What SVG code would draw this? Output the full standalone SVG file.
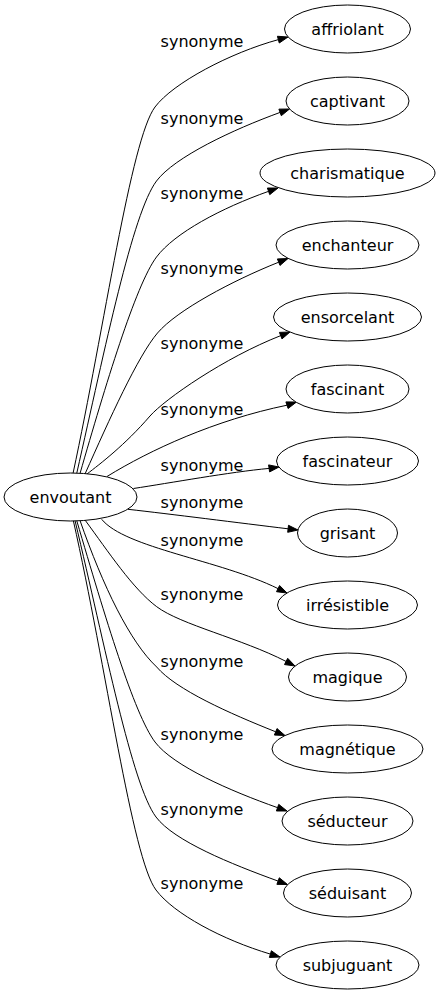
<svg xmlns="http://www.w3.org/2000/svg" width="440" height="995" viewBox="0 0 440 995">
<style>
text{font-family:"DejaVu Sans","Verdana",sans-serif;font-size:16px;fill:#000;text-anchor:middle}
.node ellipse{fill:#fff;stroke:#000;stroke-width:1}
.edges path{fill:none;stroke:#000;stroke-width:1}
.edges polygon{fill:#000;stroke:#000;stroke-width:1}
</style>
<rect width="440" height="995" fill="#fff"/>
<g id="edges" class="edges">
<path d="M73,473.5 C104.5,326.8 131,139 155,107 C173,83 230.1,52.8 278.35,39.63"/>
<polygon points="279.27,43.01 288,37 277.43,36.25"/>
<path d="M76.7,473.5 C105.4,346.8 132.5,213 156.5,181 C174.5,157 233.1,129.5 280.1,112.42"/>
<polygon points="281.3,115.71 289.5,109 278.9,109.13"/>
<path d="M80,473.5 C105,387 135.5,285 156.5,257 C174.5,233 221.4,208 268.57,191.33"/>
<polygon points="269.74,194.63 278,188 267.4,188.03"/>
<path d="M85,474 C109.4,419.2 138,355.8 157.5,333 C177,310.2 232.3,280.7 278.71,262.2"/>
<polygon points="280,265.45 288,258.5 277.4,258.95"/>
<path d="M87,474 C100,464 125,445 150,416 C165,399 224.8,357.5 280.7,335.64"/>
<polygon points="281.97,338.9 290,332 279.43,332.38"/>
<path d="M107,476.5 C150,450 215,420 287,405.2"/>
<polygon points="288.1,408.5 296.5,402 285.9,401.9"/>
<path d="M133.4,488.5 C170,483 230,472 269.1,468.4"/>
<polygon points="269.6,471.9 279,467 268.6,464.9"/>
<path d="M128,509.3 C170,514 240,523 288.1,528.8"/>
<polygon points="287.7,532.3 298,530 288.5,525.3"/>
<path d="M101.7,519.3 C125,548 220,560 278,588.6"/>
<polygon points="276.5,591.7 287,593 279.6,585.5"/>
<path d="M85,520 C108.7,552.2 132.7,588.7 156.7,606.7 C180.7,624.7 241.6,638.6 286.1,661.44"/>
<polygon points="284.5,664.56 295,666 287.7,658.32"/>
<path d="M80,520.5 C103.1,586.6 130,642 156.7,667 C176.2,689.8 229.3,713.3 275.71,731.8"/>
<polygon points="274.4,735.05 285,735.5 277,728.55"/>
<path d="M76.7,520.5 C104.9,616.4 134,714 155,742 C173,766 230.4,791 277.57,807.67"/>
<polygon points="276.4,810.97 287,811 278.74,804.37"/>
<path d="M75,520.5 C105.2,647 132,785 156,817 C174,841 231.1,864 278.1,881.08"/>
<polygon points="276.9,884.37 287.5,884.5 279.3,877.79"/>
<path d="M73.3,520.5 C106.3,667 132,858 156,890 C174,914 222.5,939.8 270.4,954.1"/>
<polygon points="269.4,957.45 280,957 271.4,950.75"/>
</g>
<g id="edge-labels">
<text x="202" y="47">synonyme</text>
<text x="202" y="124">synonyme</text>
<text x="202" y="199">synonyme</text>
<text x="202" y="274">synonyme</text>
<text x="202" y="349">synonyme</text>
<text x="202" y="415">synonyme</text>
<text x="202" y="471">synonyme</text>
<text x="202" y="508">synonyme</text>
<text x="202" y="546">synonyme</text>
<text x="202" y="600">synonyme</text>
<text x="202" y="667">synonyme</text>
<text x="202" y="740">synonyme</text>
<text x="202" y="815">synonyme</text>
<text x="202" y="889">synonyme</text>
</g>
<g id="envoutant" class="node"><ellipse cx="70.5" cy="497" rx="66.5" ry="24"/><text x="70.5" y="502.5">envoutant</text></g>
<g id="affriolant" class="node"><ellipse cx="347.5" cy="29" rx="63" ry="24"/><text x="347.5" y="34.5">affriolant</text></g>
<g id="captivant" class="node"><ellipse cx="347.5" cy="101" rx="61.5" ry="24"/><text x="347.5" y="106.5">captivant</text></g>
<g id="charismatique" class="node"><ellipse cx="347.5" cy="173" rx="87.5" ry="24"/><text x="347.5" y="178.5">charismatique</text></g>
<g id="enchanteur" class="node"><ellipse cx="347.5" cy="245" rx="71.5" ry="24"/><text x="347.5" y="250.5">enchanteur</text></g>
<g id="ensorcelant" class="node"><ellipse cx="347.5" cy="317" rx="74" ry="24"/><text x="347.5" y="322.5">ensorcelant</text></g>
<g id="fascinant" class="node"><ellipse cx="347.5" cy="389" rx="61.5" ry="24"/><text x="347.5" y="394.5">fascinant</text></g>
<g id="fascinateur" class="node"><ellipse cx="347.5" cy="461" rx="71" ry="24"/><text x="347.5" y="466.5">fascinateur</text></g>
<g id="grisant" class="node"><ellipse cx="347.5" cy="533" rx="50" ry="24"/><text x="347.5" y="538.5">grisant</text></g>
<g id="irresistible" class="node"><ellipse cx="347.5" cy="605" rx="70" ry="24"/><text x="347.5" y="610.5">irrésistible</text></g>
<g id="magique" class="node"><ellipse cx="347.5" cy="677" rx="59" ry="24"/><text x="347.5" y="682.5">magique</text></g>
<g id="magnetique" class="node"><ellipse cx="347.5" cy="749" rx="75.5" ry="24"/><text x="347.5" y="754.5">magnétique</text></g>
<g id="seducteur" class="node"><ellipse cx="347.5" cy="821" rx="65.5" ry="24"/><text x="347.5" y="826.5">séducteur</text></g>
<g id="seduisant" class="node"><ellipse cx="347.5" cy="893" rx="64" ry="24"/><text x="347.5" y="898.5">séduisant</text></g>
<g id="subjuguant" class="node"><ellipse cx="347.5" cy="965" rx="71.5" ry="24"/><text x="347.5" y="970.5">subjuguant</text></g>
</svg>
